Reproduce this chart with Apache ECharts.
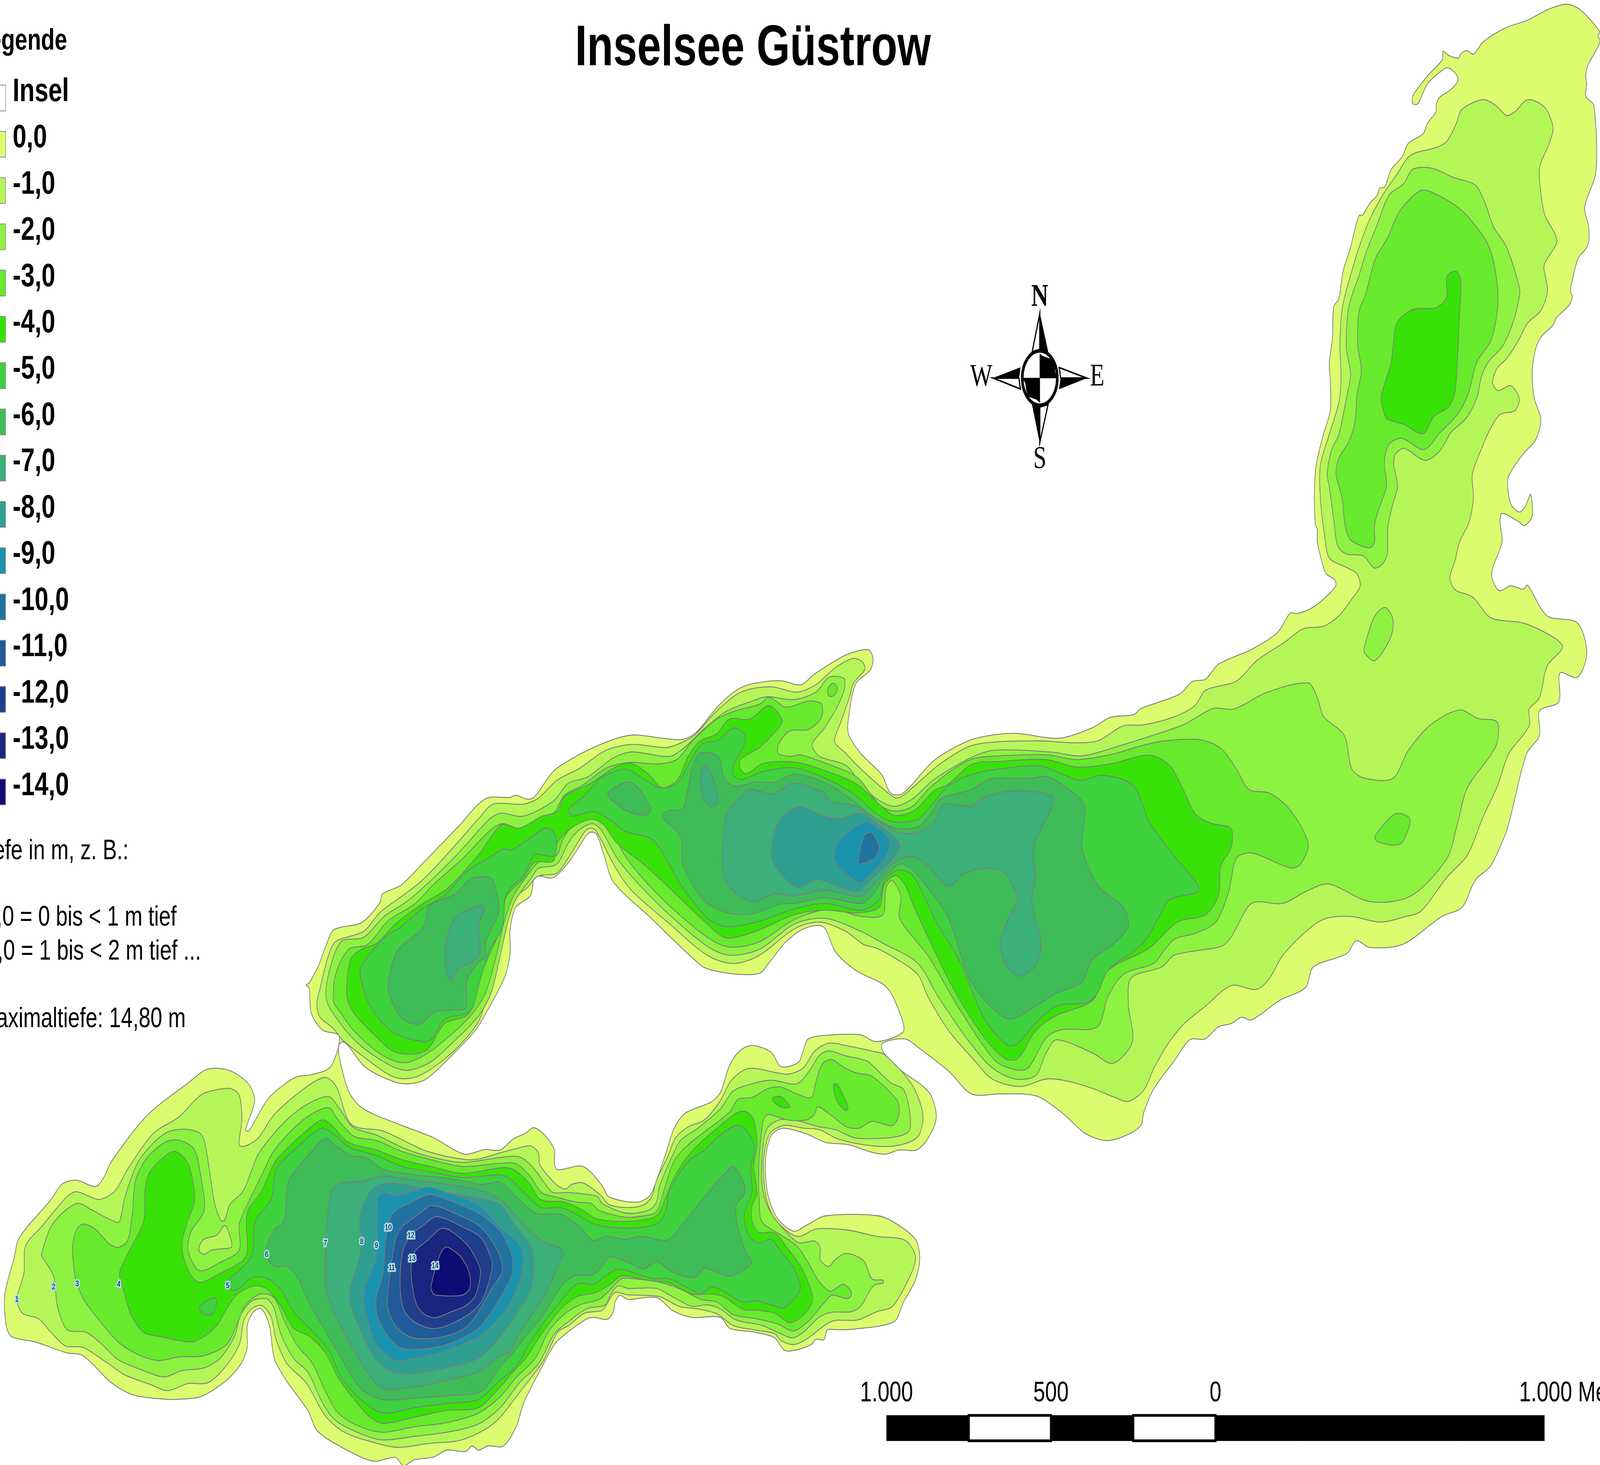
<!DOCTYPE html>
<html><head><meta charset="utf-8"><style>html,body{margin:0;padding:0;background:#fff;width:100%;height:100%;overflow:hidden}#c{width:5438px;height:3751px;transform-origin:0 0}</style>
<script src="https://cdn.jsdelivr.net/npm/echarts@6/dist/echarts.min.js"></script></head><body><div id="c"></div>
<script>
// the browser window may be narrower than the chart's native 5438x3751: fit the chart to it
document.getElementById('c').style.transform='scale('+(window.innerWidth/5438)+','+(window.innerHeight/3751)+')';
// tracing frames: offset and scale of each traced view, mapped to map units
const frame=(ox,oy,w,h,dw=1568,dh=1568)=>({ox,oy,sx:w/dw,sy:h/dh});
const TH=frame(0,0,5438,3751.5,1568,1081.7);
const Z3=frame(0,2650,1700,1100), Z4=frame(1700,2650,1700,1100), Z7=frame(1000,1600,2000,1200),
      Z8=frame(2700,1500,2738,1500), Z9=frame(4300,0,1138,1600), Z10=frame(1100,3000,700,450,1568,1350);
function ring(){const out=[];for(let a=0;a<arguments.length;a+=2){const f=arguments[a],p=arguments[a+1];
  for(let i=0;i<p.length;i+=2)out.push([f.ox+p[i]*f.sx,f.oy+p[i+1]*f.sy]);}return out;}

const legendLabels=['Insel','0,0','-1,0','-2,0','-3,0','-4,0','-5,0','-6,0','-7,0','-8,0','-9,0','-10,0','-11,0','-12,0','-13,0','-14,0'];
const depthColors=['#DBFC6E','#B4F658','#8EF240','#66EA2B','#38E208','#3DD13E','#3EBC58','#3BB078','#2E9F90','#1A93AE','#2174A0','#205A98','#1F3F8C','#1A2580','#0C0C75'];
const noteLines=[['Tiefe in m, z. B.:',126,636],['0,0 = 0 bis < 1 m tief',173,685],['-1,0 = 1 bis < 2 m tief ...',197,710],['Maximaltiefe: 14,80 m',182,760]];
const scaleStops=[-1000,-750,-500,-250,0,1000];
const scaleTicks=[[-1000,'1.000'],[-500,'500'],[0,'0']];
const contourNumbers=[['1',53,965],['2',168,920],['3',242,908],['4',372,910],['5',714,916],['6',836,802],['7',1020,760],['8',1134,755],['9',1180,768],['10',1217,703],['11',1228,850],['12',1288,731],['13',1292,816],['14',1364,843]];

const shore=ring(TH,[1539,3.5,1550,8,1568,23.5,1566,26,1568,31,1556,48.5,1554,56,1555,62,1554,71,1562,78,1564,126.5,1553,153,1557,168,1556,181,1546.5,191,1542,203,1539,215,1541,219,1538,225,1525,235,1522,240,1509,250,1503.6,262,1501.5,276.5,1503.6,294,1510,310,1504.7,325,1494,334,1482.7,345.7,1477.5,354.5,1480.6,372,1489,378,1495,373.6,1499.8,365,1501.5,381,1494,388,1488,385,1472,379,1470,385,1472,400,1461.8,423.6,1469,436,1480.6,432.5,1493,435,1497,432,1516,454.6,1546,460,1555,482,1546,500,1528.7,497,1527.7,518,1508.6,525,1508.6,543,1496,556.6,1481,600.7,1476,614.5,1461,639,1445.6,650,1433,669.7,1413,676.6,1375,697,1342.4,699.5,1329,694.5,1320,704,1287,714,1279.5,729,1254,738.6,1226.6,753,1216.5,751,1206.5,755.7,1194,758,1181,767,1166,767.6,1151,783,1131,803.5,1121,821,1118,831,1101,839,1083,842,1063,836.5,1040,821,1015,809,980,807.6,952,807.6,930,791,899.3,773,887,767,865,770,865,776,881,789,910.6,806.6,917.5,825,909,841,898,849,881,849,868.5,852,856,851,831,845,809,843.4,790,837,767,833,756,838,751,851,750,865,753,883.5,762,899.6,778,909,790,904.7,809,897.6,861,897.6,881,904.7,898,916,901.3,930,896.6,946,885.6,961,878,974.5,865.3,978.5,831,981.6,818.4,981.6,810.6,982,807.5,989,799.7,988.7,795,992.7,777.8,997,768.4,996.7,759,987.6,740,983.6,715,980.6,706,972.5,677.8,972.5,659,967.4,643.4,958,615.2,959.3,607.4,956.3,602.7,961.3,601.2,968.4,595,974,581,972.5,573,974.5,546.5,989.7,540,996.7,513.6,1035,505.8,1053.4,493.3,1067.5,478,1067.5,469,1070.6,462.6,1067.5,456.4,1071.6,437.6,1070.6,425,1075.6,406,1077.7,395.4,1082,387.6,1076,365.7,1078.7,337.6,1069.6,311,1056.4,301.7,1041.3,281.3,1020,268.8,1002.8,264,978.5,256.3,966.4,248.5,968.4,242.3,978.5,242.3,994.7,236,1007,222,1019,197,1031,175,1033,162.6,1033,131.3,1030,109.4,1021,81.3,1000.8,65.6,998.8,34.4,990.7,11,986.6,6,978.5,4.7,956.3,14,928,18.8,913.8,50,885.5,61,874,75,871.3,93.8,876,101.6,869.3,109.4,857.2,143.8,823.8,184.4,799.5,203.2,789.4,225,790.4,243.8,800.5,249.5,812.7,240.7,834,243.8,835,256.3,818.7,265.7,808.6,289,795.5,304.8,793.4,324,787.4,332.5,765,316,760.4,305,748,303,729.5,300,727.3,303,725.6,312,713,319.7,697.6,327,686.5,354.6,681,372.2,666.6,374.8,660,393.2,653.4,413.4,638,450.2,609.3,468.6,593.8,479.7,588.7,499.9,588.7,505.4,587,516.4,590,523.8,588.3,542.2,569.5,564.2,558.5,588.2,549.7,608.4,544.2,623.1,542.6,667.2,546,682,540.9,704,521,726,507.7,748.2,503.3,766.5,502.7,785,505.5,797.8,497.8,829,483.5,851,479.7,855.5,485.7,853,494.5,838.2,505.5,830.9,534.2,832,543,844,556.6,864,571.8,873,585.6,885,585.6,914.4,562,944.7,548.3,964.8,543.6,995,541.4,1037.8,545,1070.5,537.3,1088,529.6,1110.8,527.6,1118.4,523,1156,512.5,1168.7,503,1181.3,501.5,1194,490.4,1226.6,479.4,1251.8,467,1264.4,452.6,1271,453,1286,448.7,1300.6,439.8,1309,432.5,1308,428,1299.6,423.6,1295,413.3,1291,400,1291,391,1289,387,1288,365,1289.7,344,1296.4,322,1303.7,303,1303.7,282,1302.7,268,1305.8,250,1307,226.5,1312,220.6,1316.3,200,1323.6,182.4,1327.8,169,1332,159,1335,159,1342.5,150,1349.8,144,1351.9,139,1357,138,1363.4,125,1373.9,116,1380,106,1394.8,98.6,1399,91,1407.3,82.4,1407.3,78,1410.5,72,1422,66,1428.9,59,1425,53,1417.8,50,1411.5,53,1399,61.8,1389.5,76.5,1384.3,76.5,1384.7,70.6,1399,56,1413.6,44,1414,38,1420,41,1429.3,43,1431.4,39.7,1437.7,37.4,1444,40,1453.4,31,1474.3,21,1497.3,14.7,1516,7.4,1530.8,3.5]);
const insel=ring(TH,[336,769,341.7,772.6,358.3,788,387.7,799,402.4,800,417,796.9,435.5,784.7,465,761.5,476,748.3,494.4,721.8,499.9,704,499.9,686.5,505.4,670,520,661,523.8,646.8,529.3,646.8,542.2,647.9,556.9,636.9,567.9,624.7,577,614.8,584.5,615.9,591.8,631.3,601,651,637.8,677.7,687.4,713,700.3,716.7,722.4,719.2,744.5,718.5,753.7,710.8,770.2,695.3,788.6,685.4,807,684.3,818.8,702.8,839,716.6,869,729,884,752.4,885,762,859,769,843.4,764,815.3,764,792,767,787,776,782.5,784.3,765.3,787.4,756,777,737.2,771.8,724.6,776,715,786.4,705.9,806.6,696.5,813.7,671.5,821.8,660.6,832.9,652.8,851,643.4,871.3,637.1,882.4,624.6,887.5,596.5,883.5,590.2,875.4,571.5,861.2,546.5,863.6,543.3,859,543.3,849,534,838,523,832.5,515.2,836.5,502.7,841,490.2,849,475,848.7,454.8,852,425,840,394,830.9,356.4,818.7,342.3,806.6,333,782.3,332,772.2]);

// -1
const d1South=ring(Z3,[53,965,75,870,80,770,130,700,210,590,240,572,310,600,360,570,400,490,480,360,560,300,610,240,640,212,720,195,750,220,758,310,750,400,770,405,810,375,860,290,960,190,1020,155,1055,190,1100,325,1200,350,1265,385,1340,425,1460,455,1510,450],
 Z4,[0,430,50,415,95,405,120,430,125,475,175,545,205,562,225,545,260,540,315,585,340,618,400,630,450,620,475,590,490,530,525,445,550,375,590,335,640,310,690,240,725,165,780,122,900,143,950,120,985,60,1030,30,1090,40,1170,60,1205,72,1290,180,1325,290,1310,370,1250,402,1170,405,1060,380,1000,345,950,340,890,330,845,360,828,430,825,500,835,600,860,670,910,725,940,735,990,708,1090,712,1180,735,1270,750,1302,810,1285,880,1230,990,1180,1010,1120,1040,1040,1045,960,1110,920,1130,880,1115,860,1090,790,1075,730,1060,680,1018,620,1000,560,990,500,955,400,948,360,940,340,970,320,1005,265,1015,215,1060,180,1085,135,1190,70,1290,0,1395],
 Z3,[1520,1440,1440,1480,1350,1490,1250,1505,1180,1490,1080,1450,1020,1390,960,1270,900,1200,865,1110,850,1030,822,988,790,998,765,1040,750,1130,700,1220,650,1270,590,1272,525,1298,470,1275,390,1240,340,1200,260,1140,205,1135,160,1085,120,1035,70,1015]);
const d1North=ring(Z7,[60,1270,70,1210,90,1110,110,1060,185,1025,230,960,290,905,345,850,420,750,490,650,530,600,610,600,650,580,700,520,760,480,830,420,900,400,990,410,1030,395,1070,365,1120,295,1190,225,1270,207,1340,225,1390,200,1440,145,1490,112,1515,125,1520,150,1490,195,1480,240,1455,330,1440,390,1470,430,1500,470],
 Z8,[170,540,200,568,230,540,280,480,340,430,390,418,480,415,540,420,590,415,640,375,680,372,740,350,780,320,800,280,860,255,900,200,955,150,990,115,1030,108,1060,80,1085,35],
 Z9,[445,1470,430,1440,385,1425,300,1400,280,1350,260,1260,258,1170,300,1090,345,1010,355,950,350,860,362,770,395,700,440,620,490,550,550,490,620,435,680,390,800,370,850,355,895,310,920,275,1020,250,1080,265,1130,290,1170,280,1230,250,1310,270,1348,320,1330,360,1285,420,1290,480,1310,540,1360,590,1365,610,1320,650,1305,670,1322,730,1290,780,1230,810,1180,860,1130,900,1085,925,1065,960,1090,980,1150,968,1190,1000,1170,1030,1100,1040,1050,1080,1010,1130,970,1190,975,1250,955,1310,910,1360,890,1405,865,1450,890,1480],
 Z8,[1320,30,1355,85,1420,100,1480,140,1495,165,1465,215,1450,300,1430,330,1430,375,1390,450,1370,530,1340,620,1310,720,1270,780,1220,870,1190,885,1140,900,1085,885,1035,890,1000,920,950,990,925,1050,900,1080,850,1070,800,1125,760,1170,730,1220,700,1290,680,1350,650,1380,625,1370,580,1345,530,1325,490,1320,440,1340,385,1320,350,1270,300,1190,260,1100,240,1040,200,1000,160,970,135,960,100,925,50,900,0,918],
 Z7,[1240,1105,1170,1133,1100,1105,1000,1000,900,890,855,810,805,690,790,680,775,690,740,760,700,830,650,840,620,880,600,900,575,960,555,1060,540,1150,510,1260,490,1330,430,1420,360,1490,310,1517,260,1510,180,1440,130,1390,100,1345,70,1315]);
// -2
const d2South=ring(Z3,[130,800,165,690,240,615,290,640,360,682,375,680,392,590,430,470,480,395,530,352,590,345,632,365,648,430,672,610,692,676,704,676,720,620,762,570,790,490,812,430,890,320,960,255,1030,225,1065,270,1105,335,1180,365,1270,415,1350,445,1450,465],
 Z4,[0,447,60,445,100,480,145,550,165,575,210,575,260,580,305,590,320,615,395,650,465,640,490,610,500,550,540,440,565,385,620,340,690,270,730,205,790,178,850,165,930,178,970,130,1000,75,1030,58,1080,75,1150,95,1175,120,1225,175,1265,200,1285,290,1282,350,1240,372,1170,378,1110,375,1050,345,1000,335,920,310,870,312,835,345,822,430,820,530,830,600,855,660,890,710,935,758,985,752,1003,775,1003,820,1030,845,1050,820,1085,797,1140,825,1165,890,1200,895,1200,905,1170,915,1130,990,1100,1010,1040,1012,1000,1030,950,1085,915,1105,870,1085,820,1060,740,1040,690,1000,650,985,600,990,540,955,490,925,400,925,370,915,345,950,330,985,270,1000,210,1050,170,1090,120,1200,60,1270,0,1360],
 Z3,[1500,1420,1400,1450,1300,1465,1200,1478,1130,1455,1050,1405,1010,1340,965,1230,920,1180,880,1090,860,1000,840,965,818,962,790,970,755,1020,735,1100,690,1180,640,1215,570,1225,515,1248,450,1225,370,1185,320,1130,270,1085,210,1075,180,990,168,880,135,815]);
const d2Main=ring(Z7,[85,1250,95,1150,125,1060,185,1045,240,975,300,925,360,860,440,760,520,650,550,630,610,640,690,590,730,530,780,510,850,445,900,425,1000,440,1040,410,1090,350,1150,290,1220,255,1260,240,1330,250,1390,225,1425,175,1465,180,1465,220,1440,290,1410,350,1380,400,1400,440,1470,470],
 Z8,[130,530,160,570,195,590,230,570,270,520,340,462,390,440,500,445,560,455,640,425,720,390,760,370,815,328,855,330,920,285,1000,260,1018,300,1030,350,1070,400,1085,490,1110,515,1165,515,1195,440,1240,370,1295,332,1330,355,1368,365,1365,430,1310,540,1290,640,1270,730,1200,830,1120,845,1040,798,1000,815,950,850,890,850,850,940,830,965,740,988,715,1020,655,1050,650,1120,658,1220,620,1278,580,1250,510,1215,490,1250,470,1310,430,1320,385,1290,340,1220,280,1100,240,1010,170,955,130,925,60,890,0,905],
 Z7,[1240,1085,1160,1105,1100,1075,1000,970,920,870,860,780,820,690,795,665,760,685,730,730,700,800,650,815,630,850,590,920,570,990,550,1100,525,1230,490,1310,420,1400,360,1465,300,1490,250,1470,170,1400,115,1320]);
const d2North=ring(Z9,[290,1190,310,1130,345,1090,380,1000,400,940,380,870,392,770,440,690,475,630,520,570,580,490,650,460,690,425,780,422,880,445,985,465,1030,510,1070,570,1130,620,1190,720,1190,745,1160,810,1110,870,1050,905,1015,940,990,1000,940,1050,870,1085,820,1130,750,1155,650,1125,610,1140,602,1165,620,1220,600,1260,575,1320,572,1390,550,1415,510,1425,460,1395,380,1390,340,1370,320,1300,300,1220]);
const d2Islet=ring(Z8,[1110,160,1130,80,1150,58,1165,90,1160,140,1130,200,1110,180]);
const d1Isle=ring(Z3,[625,770,640,745,680,730,705,695,725,750,725,775,700,780,665,785,640,800,625,790]);
// -3
const d3South=ring(Z3,[228,770,240,710,262,690,300,710,340,760,370,775,400,750,415,650,425,530,460,450,520,390,565,385,610,420,630,520,640,640,598,720,590,790,625,860,690,830,750,785,750,690,775,620,825,500,860,420,950,310,1030,265,1060,310,1110,370,1180,385,1260,425,1350,455,1450,480],
 Z4,[0,468,50,470,90,510,130,575,170,590,240,610,285,615,310,640,390,665,450,660,490,645,510,580,545,460,590,400,650,345,720,280,745,235,790,228,840,195,880,190,920,210,975,228,990,170,1010,105,1040,90,1080,120,1120,140,1165,150,1245,240,1250,290,1230,330,1165,315,1125,340,1085,335,1040,295,995,262,985,290,960,310,900,310,840,290,825,310,815,400,810,500,812,600,820,680,880,730,930,770,965,830,1000,900,1035,935,1075,910,1100,935,1098,955,1085,962,1040,950,1010,985,970,1040,920,1080,870,1055,800,1035,730,1020,680,975,630,965,560,925,490,900,420,890,380,890,345,930,310,965,250,985,200,1020,150,1085,110,1180,50,1250,0,1320],
 Z3,[1500,1380,1400,1415,1300,1430,1200,1450,1130,1430,1060,1380,1020,1300,980,1200,930,1130,890,1040,860,960,818,945,770,985,745,1050,710,1130,640,1170,560,1175,495,1188,430,1165,370,1120,310,1040,260,960,235,880]);
const d3Main=ring(Z7,[105,1260,110,1170,145,1085,195,1070,250,990,320,935,370,870,450,780,520,690,555,665,600,680,690,630,720,570,770,535,830,480,890,460,970,465,1020,450,1060,390,1120,320,1170,290,1240,265,1265,242,1310,275,1370,255,1405,265,1405,310,1370,350,1320,355,1290,400,1290,430,1320,440,1350,435,1420,465,1500,510],
 Z8,[165,585,195,603,230,590,260,545,310,490,350,462,400,455,490,452,550,465,620,450,670,430,720,415,790,412,830,435,860,490,885,545,925,555,965,600,1000,690,985,745,965,755,890,715,860,730,845,820,820,900,780,930,740,945,720,975,700,1010,640,1040,610,1100,590,1180,520,1188,490,1210,455,1290,430,1295,390,1270,320,1130,260,990,205,890,207,830,190,788,178,810,172,880,130,885,70,865,0,893],
 Z7,[1240,1060,1160,1078,1100,1045,1000,940,930,850,880,770,835,670,800,650,750,660,715,720,700,770,650,795,620,840,585,905,560,990,540,1100,510,1230,475,1300,410,1380,340,1445,290,1465,235,1440,160,1360,125,1300]);
const d3North=ring(Z9,[332,1190,345,1150,390,1110,420,1060,430,990,450,930,432,860,440,780,470,740,515,650,570,600,630,530,720,480,770,480,890,515,960,550,1040,610,1075,670,1090,760,1060,850,990,910,950,990,900,1040,820,1085,745,1128,640,1100,580,1115,558,1160,568,1220,530,1280,512,1320,512,1360,490,1375,400,1355,375,1320,360,1250]);
const d3IsletA=ring(Z8,[1130,670,1170,610,1198,625,1180,690,1135,685]);
const d3IsletB=ring(Z7,[1422,215,1435,195,1447,210,1440,235,1425,238]);
// -4
const d4South=ring(Z3,[375,870,400,800,450,680,455,560,470,500,520,440,550,425,590,470,610,600,585,690,570,770,590,860,625,903,690,870,760,825,775,790,775,650,820,570,850,490,870,450,960,350,1010,310,1040,330,1090,390,1180,420,1260,455,1350,480,1450,505],
 Z4,[0,485,40,490,90,540,125,600,200,610,260,640,300,670,395,680,490,660,520,590,545,520,590,440,640,380,740,285,770,280,795,310,805,400,795,480,805,580,790,620,790,680,810,720,860,722,895,770,945,850,980,960,960,1010,910,1050,860,1015,810,1005,760,1000,700,955,660,945,600,945,530,905,460,895,380,880,345,910,300,940,240,955,190,1000,130,1090,80,1180,40,1230,0,1285],
 Z3,[1500,1360,1400,1370,1300,1395,1200,1418,1160,1395,1110,1330,1060,1250,1020,1160,970,1100,920,1070,880,990,840,930,800,915,745,945,710,1000,680,1060,640,1100,600,1120,500,1100,450,1085,410,1020,390,940]);
const d4Main=ring(Z7,[140,1240,150,1120,180,1085,220,1065,270,1000,340,935,410,880,470,800,500,755,530,700,555,668,600,680,660,640,700,625,720,575,790,530,850,480,895,462,940,495,980,545,1020,520,1050,440,1080,390,1125,365,1160,315,1215,315,1265,270,1300,320,1280,360,1240,410,1190,450,1188,480,1205,498,1250,463,1340,460],
 Z8,[50,490,120,530,170,590,195,615,235,600,270,550,300,530,345,478,400,470,490,465,550,485,620,475,690,453,730,480,755,540,780,610,810,635,850,650,850,700,830,750,825,830,800,880,745,900,690,970,610,1030,580,1110,510,1150,470,1190,435,1265,410,1265,370,1210,310,1080,260,940,230,850,215,800,197,775,175,800,165,860,120,875,60,868,0,880],
 Z7,[1230,1025,1150,1047,1100,1000,1000,880,930,800,860,730,825,670,795,650,750,670,720,700,700,730,690,790,640,795,610,850,565,910,555,1000,525,1090,490,1190,465,1300,400,1335,350,1425,270,1430,220,1380,160,1300]);
const d4North=ring(Z9,[545,990,590,910,610,820,640,795,700,775,800,772,850,745,850,695,890,680,915,700,908,810,890,980,860,1020,790,1045,740,1088,650,1065,570,1050,548,1020]);
const d4IsletA=ring(Z4,[855,230,880,225,908,262,885,265,858,245]);
const d4IsletB=ring(Z4,[1045,182,1058,182,1090,262,1085,277,1055,240]);
// -5
const d5South=ring(Z3,[722,930,720,890,750,860,790,800,800,680,850,600,860,520,870,480,960,380,1010,340,1050,365,1095,410,1180,440,1260,480,1350,500,1450,520],
 Z4,[0,510,30,525,80,580,130,630,190,630,240,655,295,690,390,705,490,690,520,640,530,570,590,460,640,420,690,365,740,330,770,345,797,410,785,490,790,570,765,660,780,730,810,760,850,745,880,790,925,860,940,930,890,995,850,985,800,970,760,975,670,920,625,945,600,930,530,890,480,890,370,855,330,880,295,910,240,910,170,1000,130,1060,90,1130,50,1210,0,1260],
 Z3,[1500,1330,1400,1345,1300,1360,1200,1380,1130,1330,1070,1250,1030,1150,970,1070,920,1010,880,930,840,890,790,885,750,925]);
const d5Nw=ring(Z7,[175,1160,190,1120,245,1040,280,1015,340,950,400,905,460,825,530,770,555,750,580,752,620,720,670,680,695,700,695,770,660,770,640,768,610,840,565,900,555,1010,520,1090,495,1190,470,1290,400,1320,370,1380,345,1395,260,1360,200,1270]);
const d5Mid=ring(Z7,[735,610,770,575,820,510,885,483,930,515,975,545,1020,530,1050,470,1085,400,1130,385,1170,345,1200,365,1200,400,1170,470,1170,500,1190,518,1250,490,1330,478,1410,510,1490,565],
 Z8,[165,615,195,632,240,625,265,590,300,535,345,505,400,490,480,483,555,520,600,507,660,535,690,630,720,690,750,740,785,800,785,820,730,840,710,885,680,955,610,1030,590,1090,570,1115,510,1125,470,1170,435,1225,415,1230,370,1160,320,1000,280,910,230,775,200,762,175,790,165,840,130,868,60,850,0,865],
 Z7,[1230,995,1150,1010,1100,980,1030,870,980,760,950,715,880,690,850,660,800,625,740,640,730,625]);
const d5Spot=ring(Z3,[625,1000,640,975,675,960,678,985,665,1020,640,1020]);
// -6
const d6South=ring(Z3,[835,780,860,710,890,680,900,560,910,520,980,420,1020,378,1060,410,1100,440,1150,450,1200,490,1300,510,1420,525,1510,545],
 Z4,[0,538,50,590,110,650,190,655,250,700,290,750,330,735,390,745,440,735,520,750,545,730,565,700,620,620,700,510,730,480,760,530,768,575,740,620,745,700,770,790,788,825,780,845,720,880,640,852,610,885,540,865,490,828,450,855,410,835,345,810,315,850,290,875,230,880,190,920,130,1030,80,1100,40,1160,0,1210],
 Z3,[1510,1300,1420,1315,1300,1325,1200,1330,1130,1290,1070,1180,1010,1060,970,980,930,880,900,845,860,845,838,815]);
const d6Nw=ring(Z7,[250,1205,270,1100,290,1070,345,1010,360,940,430,900,470,850,525,848,540,900,545,960,510,1060,510,1110,490,1130,460,1190,458,1280,430,1288,375,1295,335,1335,290,1320,260,1260]);
const d6Spot=ring(Z7,[835,565,890,525,920,550,950,615,940,635,900,630,860,600]);
const d6Mid=ring(Z7,[1035,615,1060,480,1080,430,1130,440,1145,510,1175,540,1230,525,1280,527,1330,500,1400,520,1470,570],
 Z8,[150,615,195,648,240,645,265,610,285,570,345,545,380,517,460,515,490,510,530,540,565,590,560,700,590,800,640,860,650,910,620,960,580,1000,560,1060,510,1090,470,1125,420,1160,385,1130,340,1050,300,890,255,800,225,755,205,745,175,780,150,830,130,850,60,835,0,850],
 Z7,[1290,935,1220,967,1150,962,1090,920,1035,800,1030,710,980,640,1000,620]);
// -7
const d7South=ring(Z3,[1020,850,1025,690,1040,570,1070,540,1130,535,1200,515,1300,530,1400,545,1500,565],
 Z4,[0,600,50,660,90,710,130,750,190,780,198,800,185,835,140,950,100,1020,50,1110,30,1160,0,1170],
 Z3,[1500,1230,1400,1260,1300,1285,1200,1290,1150,1230,1100,1130,1050,1020,1020,920]);
const d7Nw=ring(Z7,[402,1090,425,985,495,938,508,950,492,1000,494,1100,470,1130,435,1150,418,1188,408,1170]);
const d7Spot=ring(Z7,[1082,500,1095,470,1115,510,1130,590,1110,607,1090,580]);
const d7Mid=ring(Z7,[1140,800,1153,630,1190,575,1215,550,1275,565,1330,530,1410,560,1430,590],
 Z8,[120,590,165,630,203,660,240,660,270,635,290,585,345,590,370,565,430,548,500,560,505,580,470,680,465,720,470,780,462,840,480,960,470,1015,440,1045,415,1020,400,960,420,880,435,840,410,770,380,755,330,770,300,805,260,750,228,725,190,745,160,790,130,830,60,815,0,830],
 Z7,[1280,900,1225,927,1190,910,1150,860]);
// -8
const d8South=ring(Z3,[1095,950,1130,790,1130,650,1170,560,1230,540,1300,555,1400,575,1500,595],
 Z4,[0,620,50,700,95,770,105,830,95,930,60,1000,0,1100],
 Z3,[1500,1180,1400,1215,1300,1235,1220,1225,1170,1170,1120,1050]);
const d8Mid=ring(Z7,[1272,780,1290,660,1345,608,1400,635,1450,648,1510,630],
 Z8,[165,640,200,680,205,700,185,740],
 Z7,[1530,860,1500,892,1440,870,1390,852,1345,880,1310,850]);
// -9
const d9South=ring(Z3,[1140,960,1150,900,1180,810,1183,600,1200,575,1240,585,1300,570,1340,555,1400,575,1500,620],
 Z4,[0,700,65,775,70,850,40,960,0,1030],
 Z3,[1500,1100,1400,1150,1300,1180,1240,1188,1180,1130,1150,1030]);
const d9Mid=ring(Z8,[80,700,95,670,140,632,180,670,185,700,170,740,135,790,125,795,80,740]);
// -10
const d10South=ring(Z3,[1178,970,1200,870,1210,740,1232,650,1290,610,1345,582,1400,600,1500,650],
 Z4,[0,715,35,800,38,870,0,960],
 Z3,[1500,1070,1400,1130,1300,1148,1245,1135,1190,1050]);
const d10Mid=ring(Z8,[125,730,135,670,150,660,165,700,155,730,125,745]);
// -11 to -14
const d11=ring(Z10,[485,980,510,750,550,510,600,420,720,330,820,260,1000,320,1200,430,1330,620,1360,760,1280,900,1100,1180,900,1270,680,1275,560,1200,490,1060]);
const d12=ring(Z10,[582,880,600,620,660,490,760,410,860,345,1050,420,1200,510,1280,680,1280,760,1200,1000,1050,1130,850,1205,700,1160,610,1060]);
const d13=ring(Z10,[665,760,690,620,800,520,890,438,960,450,1100,570,1190,740,1190,820,1150,960,1080,1030,960,1080,850,1122,760,1090,700,1000]);
const d14=ring(Z10,[817,880,870,680,900,610,925,582,950,582,1040,650,1100,750,1117,850,1105,910,1050,950,850,947,822,915]);

// paint order: [level, ring]; level -1 means the island
const paintOrder=[[0,shore],[-1,insel],[1,d1South],[1,d1North],[2,d2South],[2,d2Main],[2,d2North],[2,d2Islet],[1,d1Isle],
 [3,d3South],[3,d3Main],[3,d3North],[3,d3IsletA],[3,d3IsletB],[4,d4South],[4,d4Main],[4,d4North],[4,d4IsletA],[4,d4IsletB],
 [5,d5South],[5,d5Nw],[5,d5Mid],[5,d5Spot],[6,d6South],[6,d6Nw],[6,d6Spot],[6,d6Mid],[7,d7South],[7,d7Nw],[7,d7Spot],[7,d7Mid],
 [8,d8South],[8,d8Mid],[9,d9South],[9,d9Mid],[10,d10South],[10,d10Mid],[11,d11],[12,d12],[13,d13],[14,d14]];

// compass (map units)
const compassBlackPoints=[[[3534,802.5],[3562,901],[3534,894.6]],[[3375.5,968],[3468,941],[3463,968]],[[3693,968],[3605,968],[3600,996]],[[3534,1133],[3508,1036],[3534,1042]]];
const compassWhitePoints=[[[3534,802.5],[3508,901],[3534,894.6]],[[3375.5,968],[3463,968],[3468,996]],[[3693,968],[3600,941],[3605,968]],[[3534,1133],[3534,1042],[3562,1036]]];
const compassQuarters=[[[3534,906],[3544,912],[3569,918.6],[3582,932],[3586,952.6],[3591,968],[3534,968]],[[3534,1030.5],[3523.5,1023],[3495,1015],[3489,1002],[3485,981.6],[3476.5,968],[3534,968]]];
const compassLetters=[['N',3534,790],['S',3534,1205],['W',3335,995],['E',3729,994]];

const SANS='"Liberation Sans"',SERIF='"Liberation Serif"';
const mid=(base,fs)=>base-0.35*fs;
const txt=(api,x,y,text,font,align,extra)=>{const p=api.coord([x,y]);return {type:'text',style:Object.assign({x:p[0],y:p[1],text,font:font,fill:'#000',align,verticalAlign:'middle'},extra||{})};};

const hiddenAxis={show:false,type:'value'};
const chart=echarts.init(document.getElementById('c'),null,{renderer:'canvas',width:5438,height:3751});
const custom=(count,renderItem,z)=>({type:'custom',coordinateSystem:'cartesian2d',silent:true,clip:false,z,data:Array.from({length:count},(_, i)=>[i,i]),encode:{x:-1,y:-1},renderItem});
const poly=(api,pts,fill,lw)=>({type:'polygon',shape:{points:pts.map(p=>api.coord(p))},style:{fill,stroke:'#000',lineWidth:lw}});

chart.setOption({
 animation:false,backgroundColor:'#fff',
 title:{text:'Inselsee Güstrow',left:2554,top:49,textAlign:'center',textStyle:{fontFamily:SANS,fontWeight:'bold',fontSize:146,color:'#000'}},
 grid:{left:0,right:0,top:0,bottom:0},
 xAxis:Object.assign({min:0,max:5438},hiddenAxis),
 yAxis:Object.assign({min:0,max:3751,inverse:true},hiddenAxis),
 series:[
  custom(paintOrder.length,(params,api)=>{const o=paintOrder[params.dataIndex];
    return {type:'polygon',shape:{points:o[1].map(p=>api.coord(p)),smooth:0.3},style:{fill:o[0]<0?'#fff':depthColors[o[0]],stroke:'#7d7d7d',lineWidth:2.3}};},1),
  custom(contourNumbers.length,(params,api)=>{const n=contourNumbers[params.dataIndex];
    return txt(api,Z3.ox+n[1]*Z3.sx,Z3.oy+n[2]*Z3.sy,n[0],'21px '+SANS,'center',{stroke:'#A6DDF4',lineWidth:9});},2),
  custom(legendLabels.length,(params,api)=>{const i=params.dataIndex,base=265+i*118.45;
    const a=api.coord([-20,base-47]),b=api.coord([19,base+19]);
    return {type:'group',children:[
      {type:'rect',shape:{x:a[0],y:a[1],width:b[0]-a[0],height:b[1]-a[1]},style:{fill:i===0?'#fff':depthColors[i-1],stroke:'#8a8a8a',lineWidth:2}},
      txt(api,43,mid(base,84),legendLabels[i],'bold 84px '+SANS,'left')]};},3),
  custom(1,(params,api)=>txt(api,228,mid(133,76),'Legende','bold 76px '+SANS,'right'),3),
  custom(noteLines.length,(params,api)=>{const n=noteLines[params.dataIndex];
    return txt(api,n[1]*TH.sx,mid(n[2]*TH.sy,72),n[0],'72px '+SANS,'right');},3),
  custom(scaleStops.length-1,(params,api)=>{const i=params.dataIndex,xs=m=>4131+1.118*m;
    const a=api.coord([xs(scaleStops[i]),3624]),b=api.coord([xs(scaleStops[i+1]),3689]);
    return {type:'rect',shape:{x:a[0],y:a[1],width:b[0]-a[0],height:b[1]-a[1]},style:{fill:i%2?'#fff':'#000',stroke:'#000',lineWidth:i%2?7:1}};},3),
  custom(scaleTicks.length,(params,api)=>{const t=scaleTicks[params.dataIndex];
    return txt(api,4131+1.118*t[0],mid(3593,72),t[1],'72px '+SANS,'center');},3),
  custom(1,(params,api)=>txt(api,5163,mid(3593,72),'1.000 Meter','72px '+SANS,'left'),3),
  custom(compassBlackPoints.length,(params,api)=>poly(api,compassBlackPoints[params.dataIndex],'#000',1),4),
  custom(compassWhitePoints.length,(params,api)=>poly(api,compassWhitePoints[params.dataIndex],'#fff',4),4),
  custom(1,(params,api)=>{const c=api.coord([3534,968]);
    return {type:'ellipse',shape:{cx:c[0],cy:c[1],rx:59.5,ry:69.5},style:{fill:'#fff',stroke:'#000',lineWidth:9}};},5),
  custom(compassQuarters.length,(params,api)=>poly(api,compassQuarters[params.dataIndex],'#000',1),6),
  custom(compassLetters.length,(params,api)=>{const l=compassLetters[params.dataIndex];
    return txt(api,l[1],mid(l[2],80),l[0],(l[0]==='N'?'bold ':'')+'80px '+SERIF,'center');},7)
 ]
});
</script></body></html>
